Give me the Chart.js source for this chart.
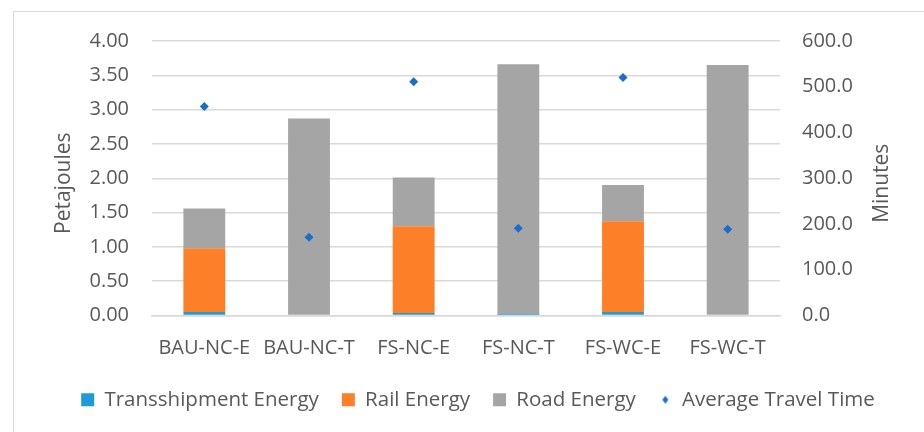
<!DOCTYPE html>
<html>
<head>
<meta charset="utf-8">
<script src="https://cdn.jsdelivr.net/npm/chart.js@4/dist/chart.umd.min.js"></script>
<style>
  body { margin: 0; background: #fff; }
  #wrap { position: relative; width: 924px; height: 432px; overflow: hidden; }
  #frame { position: absolute; left: 13px; top: 11px; width: 940px; height: 440px;
           border: 1.5px solid #d9d9d9; box-sizing: border-box; }
  canvas { position: absolute; left: 0; top: 0; }
</style>
</head>
<body>
<div id="wrap">
  <div id="frame"></div>
  <canvas id="myChart" width="924" height="432"></canvas>
</div>
<script>
var scenarios = ['BAU-NC-E', 'BAU-NC-T', 'FS-NC-E', 'FS-NC-T', 'FS-WC-E', 'FS-WC-T'];
var transshipmentEnergy = [0.05, 0.00, 0.035, 0.03, 0.05, 0.00];
var railEnergy = [0.93, 0.01, 1.265, 0.005, 1.325, 0.01];
var roadEnergy = [0.58, 2.86, 0.71, 3.625, 0.525, 3.64];
var avgTravelTime = [457, 171, 511, 190.5, 520, 188.3];

var textGrey = '#595959';
var gridGrey = '#d9d9d9';
Chart.defaults.font.family = "'Open Sans'";
Chart.defaults.font.size = 20;
Chart.defaults.color = textGrey;

// little diamond for the legend entry of the travel time series
var diamond = document.createElement('canvas');
diamond.width = 8;
diamond.height = 10;
var dctx = diamond.getContext('2d');
dctx.fillStyle = '#1a6ec8';
dctx.beginPath();
dctx.moveTo(4, 1);
dctx.lineTo(7, 5);
dctx.lineTo(4, 9);
dctx.lineTo(1, 5);
dctx.closePath();
dctx.fill();

// both axis titles read bottom-to-top
var axisTitles = {
    id: 'axisTitles',
    afterDraw: function (chart) {
        var a = chart.chartArea;
        var c = chart.ctx;
        var mid = (a.top + a.bottom) / 2 + 5;
        c.save();
        c.font = "21px 'Open Sans'";
        c.fillStyle = textGrey;
        c.textAlign = 'center';
        c.textBaseline = 'middle';
        [[64, 'Petajoules'], [882, 'Minutes']].forEach(function (t) {
            c.save();
            c.translate(t[0], mid);
            c.rotate(-Math.PI / 2);
            c.fillText(t[1], 0, 0);
            c.restore();
        });
        c.restore();
    }
};

var ctx = document.getElementById('myChart');
var myChart = new Chart(ctx, {
    data: {
        labels: scenarios,
        datasets: [{
            type: 'bar',
            label: 'Transshipment Energy',
            data: transshipmentEnergy,
            backgroundColor: '#1f9bd7',
            yAxisID: 'y',
            order: 1
        },
        {
            type: 'bar',
            label: 'Rail Energy',
            data: railEnergy,
            backgroundColor: '#fd7f27',
            yAxisID: 'y',
            order: 1
        },
        {
            type: 'bar',
            label: 'Road Energy',
            data: roadEnergy,
            backgroundColor: '#a5a5a5',
            yAxisID: 'y',
            order: 1
        },
        {
            type: 'line',
            label: 'Average Travel Time',
            data: avgTravelTime,
            showLine: false,
            pointStyle: 'rectRot',
            pointRadius: 4.5,
            pointBorderWidth: 0,
            backgroundColor: '#1a6ec8',
            borderColor: '#1a6ec8',
            yAxisID: 'y1',
            order: 0
        }]
    },
    options: {
        responsive: false,
        animation: false,
        layout: { padding: { left: 32, right: 0, top: 41, bottom: 12 } },
        datasets: {
            bar: { barPercentage: 0.4, categoryPercentage: 1.0 }
        },
        plugins: {
            tooltip: { enabled: false },
            legend: {
                position: 'bottom',
                labels: {
                    usePointStyle: true,
                    boxWidth: 13,
                    boxHeight: 13,
                    padding: 23,
                    font: { size: 20.5 },
                    color: textGrey,
                    sort: function (a, b) { return a.datasetIndex - b.datasetIndex; },
                    generateLabels: function (chart) {
                        var items = Chart.defaults.plugins.legend.labels.generateLabels(chart);
                        items.forEach(function (it) {
                            it.pointStyle = it.datasetIndex === 3 ? diamond : 'rect';
                            it.lineWidth = 0;
                        });
                        return items;
                    }
                }
            }
        },
        scales: {
            x: {
                stacked: true,
                grid: { display: false },
                border: { color: gridGrey, width: 1.5 },
                ticks: { padding: 13, maxRotation: 0 },
                afterFit: function (axis) { axis.height = 51; }
            },
            y: {
                stacked: true,
                position: 'left',
                min: 0,
                max: 4,
                ticks: {
                    stepSize: 0.5,
                    padding: 23,
                    callback: function (v) { return v.toFixed(2); }
                },
                grid: { color: gridGrey, lineWidth: 1.5, drawTicks: false },
                border: { display: false },
                afterFit: function (axis) { axis.width = 120; }
            },
            y1: {
                position: 'right',
                min: 0,
                max: 600,
                ticks: {
                    stepSize: 100,
                    padding: 22,
                    callback: function (v) { return v.toFixed(1); }
                },
                grid: { display: false, drawTicks: false },
                border: { display: false },
                afterFit: function (axis) { axis.width = 144; }
            }
        }
    },
    plugins: [axisTitles]
});
</script>
</body>
</html>
